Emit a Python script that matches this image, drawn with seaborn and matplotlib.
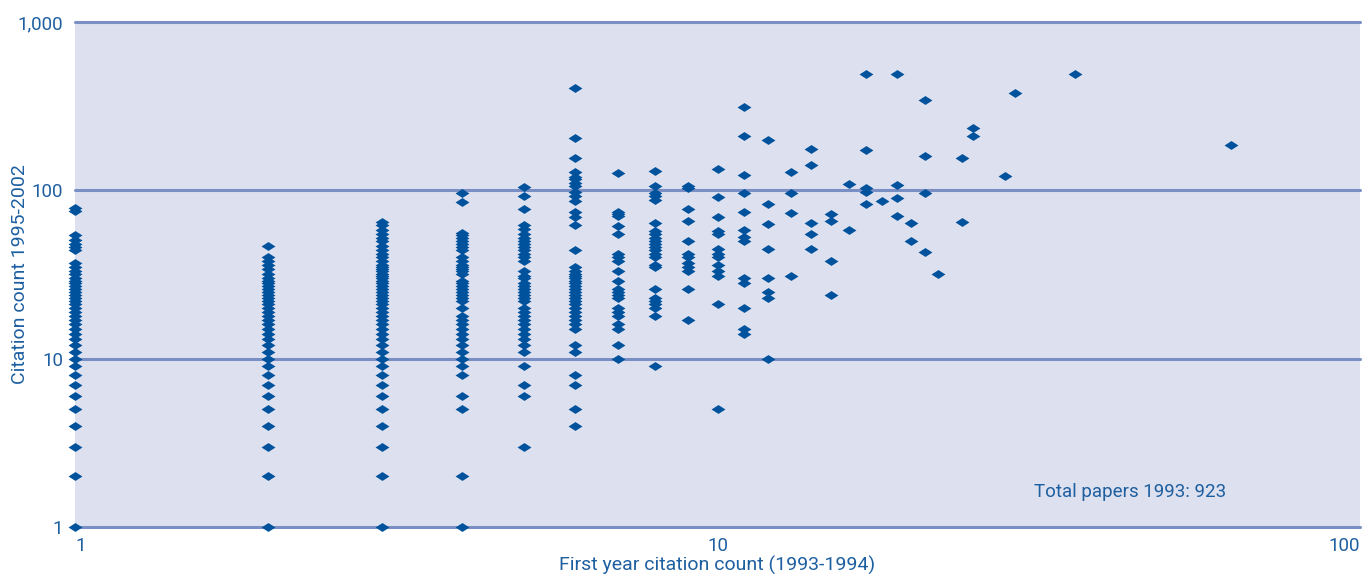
import matplotlib
matplotlib.use("Agg")
import matplotlib.pyplot as plt
import seaborn as sns
import pandas as pd
from matplotlib.ticker import FixedLocator, FixedFormatter, NullLocator

# First-year citation counts (1993-1994) that label each column of papers
first_year_counts = [1, 2, 3, 4, 5, 6, 7, 8, 9, 10, 11, 12, 13, 14, 15, 16,
                     17, 18, 19, 20, 21, 22, 24, 25, 28, 29, 36, 63]

# Later citation counts (1995-2002) of the papers in each first-year column
later_fy1 = [1, 2, 3, 4, 5, 6, 7, 8, 9, 10, 11, 12, 13, 14, 15, 16, 17, 18,
             19, 20, 21, 22, 23, 24, 25, 26, 27, 28, 29, 30, 32, 33, 35, 37,
             44, 46, 48, 51, 54, 75, 78]
later_fy2 = [1, 2, 3, 4, 5, 6, 7, 8, 9, 10, 11, 12, 13, 14, 15, 16, 17, 18,
             19, 20, 21, 22, 23, 24, 25, 26, 27, 28, 29, 30, 32, 34, 36, 38,
             40, 47]
later_fy3 = [1, 2, 3, 4, 5, 6, 7, 8, 9, 10, 11, 12, 13, 14, 15, 16, 17, 18,
             19, 20, 21, 22, 23, 24, 25, 26, 27, 28, 29, 30, 31, 32, 33, 34,
             35, 36, 38, 40, 42, 44, 47, 50, 52, 55, 58, 62, 65]
later_fy4 = [1, 2, 5, 6, 8, 9, 10, 11, 12, 13, 14, 15, 16, 17, 18, 20, 22,
             23, 24, 25, 26, 27, 28, 29, 32, 33, 34, 35, 36, 38, 40, 44, 46,
             48, 50, 52, 54, 56, 85, 97]
later_fy5 = [3, 6, 7, 9, 11, 12, 13, 14, 15, 16, 17, 18, 19, 20, 22, 23, 24,
             25, 26, 27, 28, 30, 31, 33, 38, 40, 42, 44, 46, 48, 50, 52, 55,
             59, 62, 77, 92, 104]
later_fy6 = [4, 5, 7, 8, 11, 12, 15, 16, 17, 18, 19, 20, 21, 22, 23, 24, 25,
             26, 27, 28, 29, 30, 31, 32, 33, 35, 44, 62, 69, 74, 87, 92, 98,
             106, 110, 116, 120, 129, 156, 205, 408]
later_fy7 = [10, 12, 15, 16, 18, 19, 20, 23, 24, 25, 26, 29, 33, 38, 40, 42,
             55, 61, 70, 72, 74, 126]
later_fy8 = [9, 18, 20, 21, 22, 23, 26, 35, 36, 40, 42, 44, 46, 48, 50, 52,
             55, 57, 64, 88, 92, 96, 106, 130]
later_fy9 = [17, 26, 33, 35, 37, 40, 42, 50, 66, 77, 103, 106]
later_fy10 = [5, 21, 31, 33, 36, 40, 42, 45, 55, 57, 69, 91, 134]
later_fy11 = [14, 15, 20, 28, 30, 50, 53, 58, 74, 97, 124, 211, 311]
later_fy12 = [10, 23, 25, 30, 45, 63, 83, 200]
later_fy13 = [31, 73, 97, 128]
later_fy14 = [45, 55, 64, 141, 175]
later_fy15 = [24, 38, 66, 72]
later_fy16 = [58, 109]
later_fy17 = [83, 98, 103, 173, 494]
later_fy18 = [86]
later_fy19 = [70, 90, 107, 490]
later_fy20 = [50, 64]
later_fy21 = [43, 96, 160, 343]
later_fy22 = [32]
later_fy24 = [65, 155]
later_fy25 = [211, 236]
later_fy28 = [122]
later_fy29 = [381]
later_fy36 = [494]
later_fy63 = [186]

y_ticks = [1, 10, 100, 1000]
y_tick_labels = ["1", "10", "100", "1,000"]
x_ticks = [1, 10, 100]
x_tick_labels = ["1", "10", "100"]

total_note = "Total papers 1993: 923"
x_title = "First year citation count (1993-1994)"
y_title = "Citation count 1995-2002"

columns = [later_fy1, later_fy2, later_fy3, later_fy4, later_fy5, later_fy6,
           later_fy7, later_fy8, later_fy9, later_fy10, later_fy11,
           later_fy12, later_fy13, later_fy14, later_fy15, later_fy16,
           later_fy17, later_fy18, later_fy19, later_fy20, later_fy21,
           later_fy22, later_fy24, later_fy25, later_fy28, later_fy29,
           later_fy36, later_fy63]

rows = []
for fy, later in zip(first_year_counts, columns):
    for v in later:
        rows.append({"first_year": fy, "later": v})
df = pd.DataFrame(rows)

BG = "#dde0ef"
GRID = "#7a8fc4"
MARK = "#00529c"
TEXT = "#1e5fa0"

sns.set_theme(style="white")
plt.rcParams["font.family"] = ["Roboto", "DejaVu Sans"]

W, H = 1362, 574
fig = plt.figure(figsize=(W / 100, H / 100), dpi=100)
ax = fig.add_axes([75 / W, 1 - 527 / H, 1285 / W, 505 / H])
ax.set_facecolor(BG)
ax.set_xscale("log")
ax.set_yscale("log")

# flattened diamond marker
diamond = [(-1.0, 0.0), (0.0, 0.64), (1.0, 0.0), (0.0, -0.64), (-1.0, 0.0)]

sns.scatterplot(data=df, x="first_year", y="later", marker=diamond, s=100,
                color=MARK, edgecolor=MARK, linewidth=0, ax=ax,
                clip_on=False, zorder=3, legend=False)

ax.set_xlim(1, 100)
ax.set_ylim(1, 1000)

for v in y_ticks:
    ax.axhline(v, color=GRID, lw=2.2, zorder=1, clip_on=False)

for s in ax.spines.values():
    s.set_visible(False)

ax.yaxis.set_major_locator(FixedLocator(y_ticks))
ax.yaxis.set_major_formatter(FixedFormatter(y_tick_labels))
ax.yaxis.set_minor_locator(NullLocator())
ax.xaxis.set_major_locator(FixedLocator(x_ticks))
ax.xaxis.set_major_formatter(FixedFormatter(x_tick_labels))
ax.xaxis.set_minor_locator(NullLocator())

ax.tick_params(axis="y", length=0, pad=8.5, labelsize=13.5, labelcolor=TEXT)
ax.tick_params(axis="x", direction="in", length=7.2, width=1.5, color=GRID,
               pad=7.5, labelsize=13.5, labelcolor=TEXT)

xt = ax.xaxis.get_major_ticks()
xt[0].tick1line.set_visible(False)
xt[2].tick1line.set_visible(False)
xt[0].label1.set_horizontalalignment("left")
xt[2].label1.set_horizontalalignment("right")

ax.set_xlabel(x_title, fontsize=14, color=TEXT)
ax.xaxis.set_label_coords(0.5, (527 - 556) / 505)
ax.set_ylabel(y_title, fontsize=14, color=TEXT)
ax.yaxis.set_label_coords((29 - 75) / 1285, 0.5)

ax.text((1130 - 75) / 1285, (527 - 492) / 505, total_note,
        transform=ax.transAxes, ha="center", va="center",
        fontsize=13.5, color=TEXT)

fig.savefig("out.png", dpi=100, facecolor="white")
